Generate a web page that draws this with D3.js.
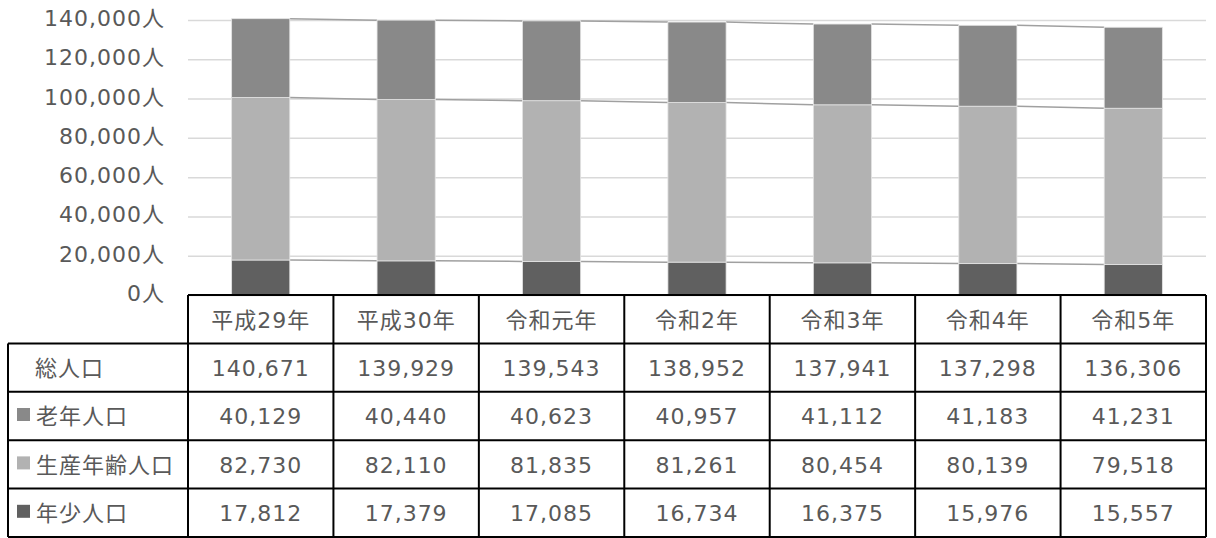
<!DOCTYPE html>
<html>
<head>
<meta charset="utf-8">
<script src="https://cdn.jsdelivr.net/npm/d3@7"></script>
<style>
  body { margin: 0; background: #fff; }
  text { font-family: "DejaVu Sans", "Noto Sans CJK JP", sans-serif; fill: #595959; letter-spacing: 1px; }
</style>
</head>
<body>
<div id="chart"></div>
<script>
const years = ["平成29年", "平成30年", "令和元年", "令和2年", "令和3年", "令和4年", "令和5年"];
const total = [140671, 139929, 139543, 138952, 137941, 137298, 136306];
const elderly = [40129, 40440, 40623, 40957, 41112, 41183, 41231];
const working = [82730, 82110, 81835, 81261, 80454, 80139, 79518];
const young = [17812, 17379, 17085, 16734, 16375, 15976, 15557];
const yTicks = [0, 20000, 40000, 60000, 80000, 100000, 120000, 140000];

// stack order bottom -> top
const series = [
  { name: "年少人口", values: young, color: "#606060" },
  { name: "生産年齢人口", values: working, color: "#b2b2b2" },
  { name: "老年人口", values: elderly, color: "#898989" }
];

const W = 1216, H = 538;
const margin = { top: 20, left: 188, right: 10 };
const plotBottom = 295;
const rowH = 48.4;
const fontSize = 22;

const svg = d3.select("#chart").append("svg")
  .attr("width", W).attr("height", H);

const x = d3.scaleBand().domain(years).range([margin.left, W - margin.right]).padding(0);
const y = d3.scaleLinear().domain([0, 140000]).range([plotBottom, margin.top]);
const barW = x.bandwidth() * 0.4;

// gridlines
svg.append("g")
  .attr("transform", `translate(${margin.left},0)`)
  .call(d3.axisLeft(y).tickValues(yTicks).tickSize(-(W - margin.right - margin.left)).tickFormat(""))
  .call(g => g.select(".domain").remove())
  .call(g => g.selectAll("line").attr("stroke", "#d9d9d9").attr("stroke-width", 1.5));

// y labels
svg.append("g")
  .attr("transform", `translate(${margin.left - 23},0)`)
  .call(d3.axisLeft(y).tickValues(yTicks).tickSize(0).tickFormat(d => d3.format(",")(d) + "人"))
  .call(g => g.select(".domain").remove())
  .call(g => g.selectAll("text").attr("font-size", fontSize).attr("x", 0).attr("dy", "0.25em")
    .style("font-family", "'DejaVu Sans', 'Noto Sans CJK JP', sans-serif").attr("fill", "#595959"));

// stacked data
const stackData = years.map((yr, i) => {
  let acc = 0;
  return series.map(s => {
    const y0 = acc;
    acc += s.values[i];
    return { year: yr, y0, y1: acc, color: s.color };
  });
});

// series lines connecting segment tops
series.forEach((s, k) => {
  for (let i = 0; i < years.length - 1; i++) {
    svg.append("line")
      .attr("x1", x(years[i]) + x.bandwidth() / 2 + barW / 2)
      .attr("x2", x(years[i + 1]) + x.bandwidth() / 2 - barW / 2)
      .attr("y1", y(stackData[i][k].y1))
      .attr("y2", y(stackData[i + 1][k].y1))
      .attr("stroke", "#a0a0a0")
      .attr("stroke-width", 1.5);
  }
});

// bars
svg.append("g").selectAll("g")
  .data(stackData)
  .join("g")
  .selectAll("rect")
  .data(d => d)
  .join("rect")
  .attr("x", d => x(d.year) + x.bandwidth() / 2 - barW / 2)
  .attr("width", barW)
  .attr("y", d => y(d.y1))
  .attr("height", d => y(d.y0) - y(d.y1))
  .attr("fill", d => d.color)
  .attr("stroke", "#e4e4e4")
  .attr("stroke-width", 0.8);

// data table
const tableTop = plotBottom;
const tableLeft = 8;
const rows = [
  { name: "総人口", values: total, color: null },
  { name: "老年人口", values: elderly, color: "#898989" },
  { name: "生産年齢人口", values: working, color: "#b2b2b2" },
  { name: "年少人口", values: young, color: "#606060" }
];
const tbl = svg.append("g");
const xEnd = W - margin.right;
const lineAttr = sel => sel.attr("stroke", "#000").attr("stroke-width", 2);

// header row
tbl.append("line").attr("x1", margin.left).attr("x2", xEnd).attr("y1", tableTop).attr("y2", tableTop).call(lineAttr);
tbl.selectAll("text.hdr").data(years).join("text")
  .attr("class", "hdr")
  .attr("x", d => x(d) + x.bandwidth() / 2)
  .attr("y", tableTop + rowH / 2)
  .attr("dy", "0.38em")
  .attr("text-anchor", "middle")
  .attr("font-size", fontSize)
  .text(d => d);

// horizontal row lines
d3.range(1, rows.length + 2).forEach(r => {
  const yy = tableTop + r * rowH;
  tbl.append("line").attr("x1", tableLeft).attr("x2", xEnd).attr("y1", yy).attr("y2", yy).call(lineAttr);
});
// vertical lines
tbl.append("line").attr("x1", tableLeft).attr("x2", tableLeft)
  .attr("y1", tableTop + rowH).attr("y2", tableTop + (rows.length + 1) * rowH).call(lineAttr);
years.forEach(yr => {
  tbl.append("line").attr("x1", x(yr)).attr("x2", x(yr))
    .attr("y1", tableTop).attr("y2", tableTop + (rows.length + 1) * rowH).call(lineAttr);
});
tbl.append("line").attr("x1", xEnd).attr("x2", xEnd)
  .attr("y1", tableTop).attr("y2", tableTop + (rows.length + 1) * rowH).call(lineAttr);

rows.forEach((row, r) => {
  const cy = tableTop + (r + 1) * rowH + rowH / 2;
  if (row.color) {
    tbl.append("rect").attr("x", 17).attr("y", cy - 8).attr("width", 13).attr("height", 13).attr("fill", row.color);
  }
  tbl.append("text")
    .attr("x", row.color ? 36 : 35)
    .attr("y", cy).attr("dy", "0.38em")
    .attr("font-size", fontSize)
    .text(row.name);
  tbl.selectAll(null).data(row.values).join("text")
    .attr("x", (d, i) => x(years[i]) + x.bandwidth() / 2)
    .attr("y", cy).attr("dy", "0.38em")
    .attr("text-anchor", "middle")
    .attr("font-size", fontSize)
    .text(d => d3.format(",")(d));
});
</script>
</body>
</html>
